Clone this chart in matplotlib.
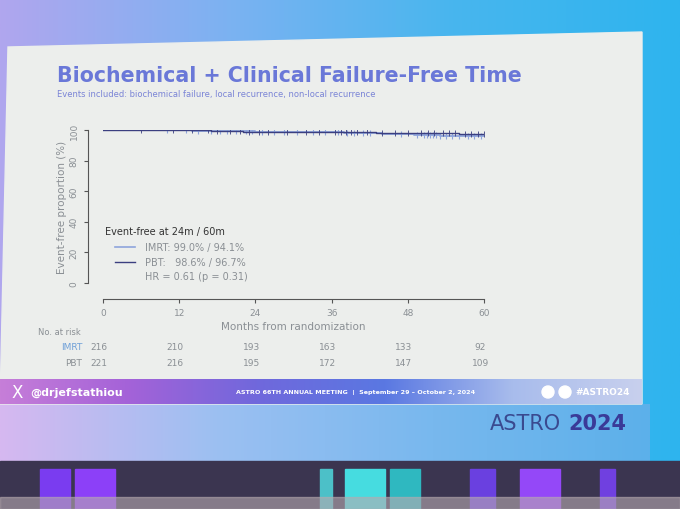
import numpy as np
import matplotlib as mpl
mpl.use('Agg')
import matplotlib.pyplot as plt
from matplotlib.patches import Polygon, Rectangle, Circle
from matplotlib.colors import LinearSegmentedColormap
import matplotlib.transforms as mtransforms

# Kaplan-Meier steps (months, % event-free)
imrt_t = [0, 7, 14, 20, 24, 31, 38, 44, 49, 53, 57, 60]
imrt_s = [100, 99.8, 99.5, 99.2, 99.0, 98.6, 98.1, 97.6, 97.0, 96.4, 95.8, 95.8]
pbt_t = [0, 9, 17, 22, 29, 36, 43, 51, 56, 60]
pbt_s = [100, 99.7, 99.3, 99.0, 98.8, 98.6, 98.3, 98.0, 97.7, 97.7]

# censoring marks (months)
imrt_cens = [10, 13, 15, 17, 18.5, 19.5, 21, 22.5, 23.5, 25, 27, 28.5, 30.5, 33, 35,
             37, 38.5, 39.5, 41, 42, 47, 49.5, 50.5, 51, 51.5, 52, 52.5, 53, 54, 55,
             56, 57.5, 58.5, 59.5]
pbt_cens = [6, 11, 14, 16.5, 18, 20, 21.5, 23, 24.5, 26, 29, 32, 34, 36.5, 37.5, 38.2,
            39, 40, 41.5, 44, 46, 48, 50, 51.2, 52.2, 53.5, 54.5, 55.5, 57, 58, 59, 60]

months = [0, 12, 24, 36, 48, 60]
risk_imrt = [216, 210, 193, 163, 133, 92]
risk_pbt = [221, 216, 195, 172, 147, 109]

imrt_col = '#8ea4dc'
pbt_col = '#3b3f80'
grey = '#8a8f94'

fig = plt.figure(figsize=(6.8, 5.1), dpi=100)

# background (pixel coordinates)
bg = fig.add_axes([0, 0, 1, 1])
bg.set_xlim(0, 680)
bg.set_ylim(510, 0)
bg.axis('off')

sky = LinearSegmentedColormap.from_list('sky', ['#b0a6ee', '#7cb2f2', '#48b6ee', '#2eb4ee'])
grad = np.linspace(0, 1, 256).reshape(1, -1)
bg.imshow(grad, cmap=sky, extent=[0, 680, 470, 0], aspect='auto', zorder=0)

low = LinearSegmentedColormap.from_list('low', ['#d6b8f0', '#9cc0f2', '#78b8ee', '#5cb0ea'])
bg.imshow(grad, cmap=low, extent=[0, 650, 470, 405], aspect='auto', zorder=1)

# stage / curtain strip at the bottom
bg.add_patch(Rectangle((0, 462), 680, 48, color='#3b3550', zorder=1))
for x0, w, c in [(40, 30, '#7a3cf0'), (75, 40, '#8c40f8'), (320, 12, '#4cc0c8'),
                 (345, 40, '#46dce0'), (390, 30, '#2fb8c0'), (470, 25, '#6a40e0'),
                 (520, 40, '#9448f8'), (600, 15, '#7040e0')]:
    bg.add_patch(Rectangle((x0, 470), w, 40, color=c, zorder=2))
bg.add_patch(Rectangle((0, 498), 680, 12, color='#b8aab0', alpha=0.6, zorder=3))

# slide panel
bg.add_patch(Polygon([[8, 48], [642, 33], [642, 405], [0, 405]],
                     closed=True, color='#eceeec', zorder=2))

# footer band
foot = LinearSegmentedColormap.from_list('foot', ['#c67ed8', '#a462d8', '#7068dc',
                                                  '#5a78e2', '#a8bcec', '#c8d0ee'])
bg.imshow(grad, cmap=foot, extent=[0, 642, 405, 380], aspect='auto', zorder=3)
bg.text(12, 393, 'X', color='white', fontsize=12, va='center', zorder=4)
bg.text(30, 393, '@drjefstathiou', color='white', fontsize=8, fontweight='bold',
        va='center', zorder=4)
bg.text(236, 393, 'ASTRO 66TH ANNUAL MEETING  |  September 29 – October 2, 2024',
        color='white', fontsize=4.6, fontweight='bold', va='center', zorder=4)
bg.add_patch(Circle((548, 393), 6, color='white', zorder=4))
bg.add_patch(Circle((565, 393), 6, color='white', zorder=4))
bg.text(575, 393, '#ASTRO24', color='white', fontsize=6.5, fontweight='bold',
        va='center', zorder=4)
bg.text(490, 424, 'ASTRO', color='#3a4a90', fontsize=15, va='center', zorder=4)
bg.text(568, 424, '2024', color='#3a3a98', fontsize=15, fontweight='bold',
        va='center', zorder=4)

# title
bg.text(57, 76, 'Biochemical + Clinical Failure-Free Time', color='#6a78d8',
        fontsize=14.8, fontweight='bold', va='center', zorder=4)
bg.text(57, 94, 'Events included: biochemical failure, local recurrence, non-local recurrence',
        color='#7a84d6', fontsize=6, va='center', zorder=4)

# KM axes
ax = fig.add_axes([103 / 680, 1 - 284 / 510, 381 / 680, 153 / 510])
ax.patch.set_alpha(0)
ax.step(imrt_t, imrt_s, where='post', color=imrt_col, lw=1.3, zorder=3)
ax.step(pbt_t, pbt_s, where='post', color=pbt_col, lw=1.0, zorder=4)


def surv_at(ts, ss, x):
    i = np.searchsorted(ts, x, side='right') - 1
    return ss[i]


ax.plot(imrt_cens, [surv_at(imrt_t, imrt_s, c) for c in imrt_cens], '|',
        color=imrt_col, ms=5, mew=0.8, zorder=3)
ax.plot(pbt_cens, [surv_at(pbt_t, pbt_s, c) for c in pbt_cens], '|',
        color=pbt_col, ms=5, mew=0.6, zorder=4)

ax.set_xlim(0, 60)
ax.set_ylim(0, 100)
for s in ['top', 'right']:
    ax.spines[s].set_visible(False)
ax.spines['left'].set_position(('outward', 11))
ax.spines['bottom'].set_position(('outward', 11.5))
ax.spines['left'].set_bounds(0, 100)
ax.spines['bottom'].set_bounds(0, 60)
for s in ['left', 'bottom']:
    ax.spines[s].set_color('#555555')
    ax.spines[s].set_linewidth(0.8)
ax.set_xticks(months)
ax.set_yticks([0, 20, 40, 60, 80, 100])
ax.tick_params(colors='#555555', labelcolor=grey, labelsize=6.5, length=3, width=0.8)
for lab in ax.get_yticklabels():
    lab.set_rotation(90)
    lab.set_va('center')
ax.set_xlabel('Months from randomization', color=grey, fontsize=7.5, labelpad=3)
ax.set_ylabel('Event-free proportion (%)', color=grey, fontsize=7.5, labelpad=2)

# legend block
bg.text(105, 232, 'Event-free at 24m / 60m', color='#333333', fontsize=7, va='center', zorder=5)
bg.plot([115, 135], [248, 248], color=imrt_col, lw=1.2, zorder=5)
bg.plot([115, 135], [263, 263], color=pbt_col, lw=1.0, zorder=5)
bg.text(145, 248, 'IMRT: 99.0% / 94.1%', color=grey, fontsize=7, va='center', zorder=5)
bg.text(145, 263, 'PBT:   98.6% / 96.7%', color=grey, fontsize=7, va='center', zorder=5)
bg.text(145, 277, 'HR = 0.61 (p = 0.31)', color=grey, fontsize=7, va='center', zorder=5)

# numbers at risk
tr = mtransforms.blended_transform_factory(ax.transData, bg.transData)
bg.text(38, 333, 'No. at risk', color=grey, fontsize=6, va='center', zorder=5)
bg.text(82, 348, 'IMRT', color='#6fa0d8', fontsize=6.5, va='center', ha='right', zorder=5)
bg.text(82, 364, 'PBT', color=grey, fontsize=6.5, va='center', ha='right', zorder=5)
for m, a, b in zip(months, risk_imrt, risk_pbt):
    ax.text(m - 0.6, 348, str(a), transform=tr, color=grey, fontsize=6.5,
            ha='center', va='center', clip_on=False)
    ax.text(m - 0.6, 364, str(b), transform=tr, color=grey, fontsize=6.5,
            ha='center', va='center', clip_on=False)

fig.savefig('out.png', dpi=100)
